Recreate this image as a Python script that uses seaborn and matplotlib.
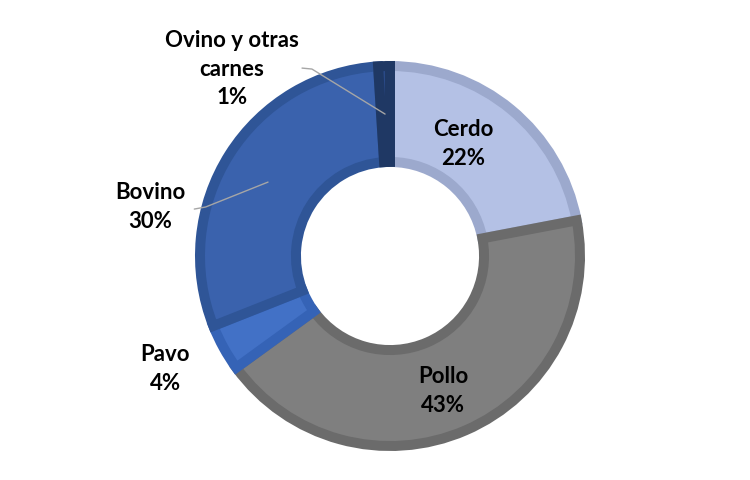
import matplotlib
matplotlib.use("Agg")
import matplotlib.pyplot as plt
import seaborn as sns

# Data (clockwise from top)
labels = ["Cerdo", "Pollo", "Pavo", "Bovino", "Ovino y otras\ncarnes"]
shares = [22, 43, 4, 30, 1]
fill_colors = ["#B4C1E5", "#7F7F7F", "#4271C6", "#3A62AD", "#2A4A88"]
edge_colors = ["#9CA9CD", "#6B6B6B", "#3563B6", "#2F5597", "#1F3864"]

# label placement (data coords of the pie axes, radius 1)
label_pos = [(0.384, 0.589), (0.279, -0.711), (-1.184, -0.595),
             (-1.263, 0.258), (-0.832, 0.984)]
# leader lines for the two outside labels that have them
leaders = {
    3: [(-1.03, 0.247), (-0.97, 0.258), (-0.642, 0.389)],
    4: [(-0.463, 0.989), (-0.411, 0.984), (-0.026, 0.747)],
}

sns.set_theme(style="white")
plt.rcParams["font.family"] = ["Lato", "DejaVu Sans"]

fig = plt.figure(figsize=(7.5, 4.8), dpi=100)
ax = fig.add_axes([200 / 750, 34 / 480, 380 / 750, 380 / 480])

wedges, _ = ax.pie(shares, colors=fill_colors, startangle=90, counterclock=False,
                   radius=1, wedgeprops=dict(width=0.505))
for w, ec in zip(wedges, edge_colors):
    w.set_edgecolor(ec)
    w.set_linewidth(7.2)
    w.set_clip_path(w)

for i, (lab, val) in enumerate(zip(labels, shares)):
    x, y = label_pos[i]
    ax.text(x, y, f"{lab}\n{val}%", ha="center", va="center", fontsize=16,
            fontweight="bold", color="black", linespacing=1.45, clip_on=False)

for i, pts in leaders.items():
    xs = [p[0] for p in pts]
    ys = [p[1] for p in pts]
    ax.plot(xs, ys, color="#A6A6A6", lw=1, clip_on=False)

ax.set_xlim(-1, 1)
ax.set_ylim(-1, 1)
ax.set_aspect("equal")
ax.axis("off")

fig.savefig("out.png", dpi=100, facecolor="white")
